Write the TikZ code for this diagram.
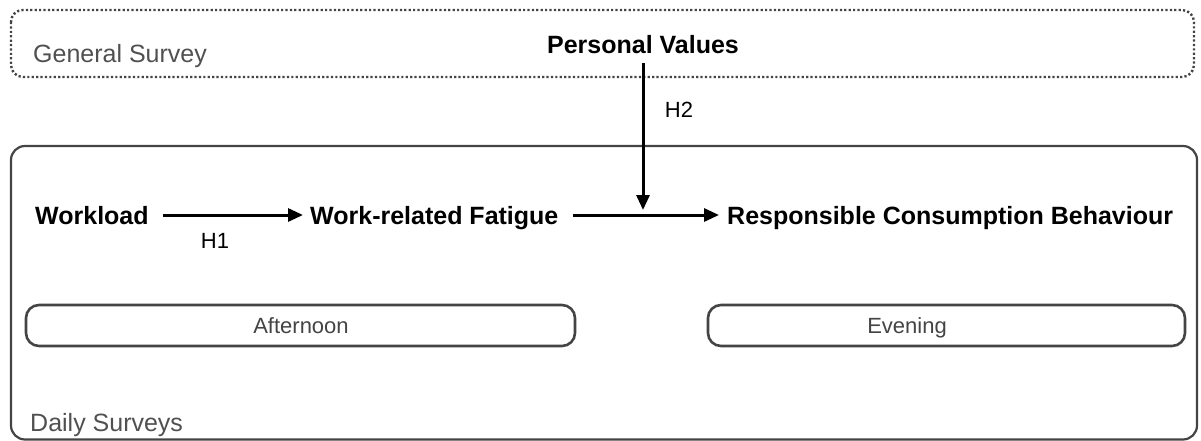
\documentclass[tikz,border=0pt]{standalone}
\usepackage{fontspec}
\setmainfont{Liberation Sans}
\usetikzlibrary{arrows.meta}
\definecolor{boxgray}{HTML}{444444}
\definecolor{txtgray}{HTML}{505050}
\tikzset{
  lbl/.style={inner sep=0pt, font=\fontsize{25}{28}\selectfont\bfseries, text=black},
  hyp/.style={inner sep=0pt, font=\fontsize{22}{26}\selectfont, text=black},
  grp/.style={inner sep=0pt, font=\fontsize{25}{28}\selectfont, text=txtgray},
  pilltext/.style={inner sep=0pt, font=\fontsize{22}{26}\selectfont, text=boxgray},
  arr/.style={line width=3pt, -{Triangle[length=15pt,width=13pt]}},
  dotbox/.style={draw=boxgray, line width=2.4pt, dash pattern=on 2.2pt off 2.2pt, rounded corners=12pt},
  solidbox/.style={draw=boxgray, line width=2.2pt, rounded corners=14pt},
  pill/.style={draw=boxgray, line width=2.6pt, rounded corners=13pt}
}
\begin{document}
\begin{tikzpicture}[x=1pt,y=-1pt]
\useasboundingbox (0,0) rectangle (1201,441);
% group boxes
\draw[dotbox] (11,10) rectangle (1194,77);
\draw[solidbox] (11,146) rectangle (1197,439.5);
\draw[pill] (26,305) rectangle (575,346);
\draw[pill] (708,305) rectangle (1185,346);
% group labels
\node[grp, anchor=base west] (gs) at (33,63) {General Survey};
\node[grp, anchor=base west] (ds) at (30,431) {Daily Surveys};
\node[pilltext, anchor=base] (aft) at (301,333) {Afternoon};
\node[pilltext, anchor=base] (eve) at (907,333) {Evening};
% variables
\node[lbl, anchor=base] (pv) at (643,54) {Personal Values};
\node[lbl, anchor=base west] (wl) at (35,224) {Workload};
\node[lbl, anchor=base west] (wrf) at (310,224) {Work-related Fatigue};
\node[lbl, anchor=base west] (rcb) at (727,224) {Responsible Consumption Behaviour};
% arrows
\coordinate (m) at (643,215);
\draw[arr, shorten <=14pt, shorten >=7pt] (wl.east |- m) -- (wrf.west |- m);
\draw[arr, shorten <=14pt, shorten >=8pt] (wrf.east |- m) -- (rcb.west |- m);
\coordinate (pvb) at (643,63);
\draw[arr] (pvb) -- ([yshift=5pt]m);
% hypothesis labels
\node[hyp] (h1) at (215,241) {H1};
\node[hyp] (h2) at (679,110) {H2};
\end{tikzpicture}
\end{document}
